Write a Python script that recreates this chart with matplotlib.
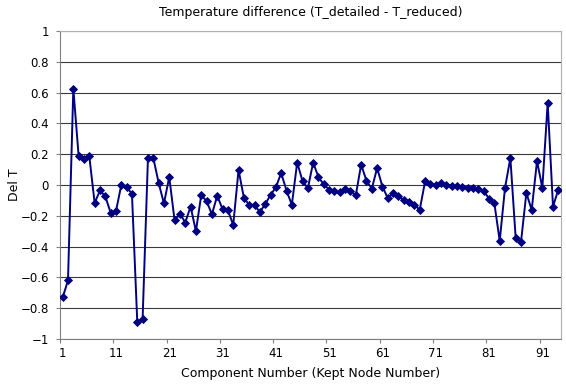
import numpy as np
import matplotlib
matplotlib.use("Agg")
import matplotlib.pyplot as plt

# Temperature difference per kept node (T_detailed - T_reduced)
del_t = [
    -0.73, -0.62, 0.625, 0.186, 0.17, 0.186, -0.117, -0.035, -0.074, -0.18,
    -0.17, 0.0, -0.013, -0.058, -0.89, -0.87, 0.173, 0.177, 0.015, -0.12,
    0.052, -0.23, -0.186, -0.244, -0.14, -0.30, -0.065, -0.105, -0.19, -0.07,
    -0.157, -0.163, -0.26, 0.098, -0.083, -0.13, -0.13, -0.176, -0.124, -0.065,
    -0.015, 0.078, -0.037, -0.128, 0.146, 0.026, -0.022, 0.146, 0.05, 0.004,
    -0.03, -0.037, -0.048, -0.028, -0.037, -0.067, 0.133, 0.028, -0.024, 0.11,
    -0.011, -0.085, -0.052, -0.07, -0.10, -0.11, -0.13, -0.16, 0.024, 0.007,
    0.0, 0.015, 0.0, -0.004, -0.009, -0.013, -0.017, -0.022, -0.026, -0.039,
    -0.089, -0.119, -0.363, -0.017, 0.175, -0.346, -0.368, -0.052, -0.162, 0.156,
    -0.019, 0.534, -0.14, -0.03,
]
components = np.arange(1, len(del_t) + 1)
x_labels = [str(c) for c in range(1, len(del_t) + 1, 10)]
y_ticks = [1, 0.8, 0.6, 0.4, 0.2, 0, -0.2, -0.4, -0.6, -0.8, -1]
y_labels = ["1", "0.8", "0.6", "0.4", "0.2", "0", "\u22120.2", "\u22120.4",
            "\u22120.6", "\u22120.8", "\u22121"]

plt.rcParams["font.family"] = ["DejaVu Sans"]

fig = plt.figure(figsize=(5.66, 3.84), dpi=100)
ax = fig.add_axes([60 / 566, 1 - 339 / 384, 501 / 566, 308 / 384])

ax.plot(components, del_t, color="#000080", lw=1.4, marker="D",
        markersize=4.5, markeredgewidth=0.6, zorder=3)

ax.set_xlim(0.5, len(del_t) + 0.5)
ax.set_ylim(-1, 1)

ax.set_yticks(y_ticks)
ax.set_yticklabels(y_labels, fontsize=8.5)
ax.set_xticks(range(1, len(del_t) + 1, 10))
ax.set_xticklabels(x_labels, fontsize=8.5)
ax.set_xticks(np.arange(0.5, len(del_t), 10), minor=True)
ax.tick_params(axis="x", which="major", length=0, pad=6)
ax.tick_params(axis="x", which="minor", length=3, width=0.8, color="#808080")
ax.tick_params(axis="y", length=3, width=0.8, color="#808080", pad=5)

ax.grid(axis="y", color="#3a3a3a", lw=0.8)
ax.set_axisbelow(True)
for side in ["top", "right"]:
    ax.spines[side].set_color("#b0b0b0")
    ax.spines[side].set_linewidth(0.8)
for side in ["left", "bottom"]:
    ax.spines[side].set_color("#808080")
    ax.spines[side].set_linewidth(0.8)

ax.set_title("Temperature difference (T_detailed - T_reduced)", fontsize=9, pad=11)
ax.set_xlabel("Component Number (Kept Node Number)", fontsize=9, labelpad=5)
ax.set_ylabel("Del T", fontsize=9)
ax.yaxis.set_label_coords(-0.078, 0.5)

fig.savefig("out.png", dpi=100)
